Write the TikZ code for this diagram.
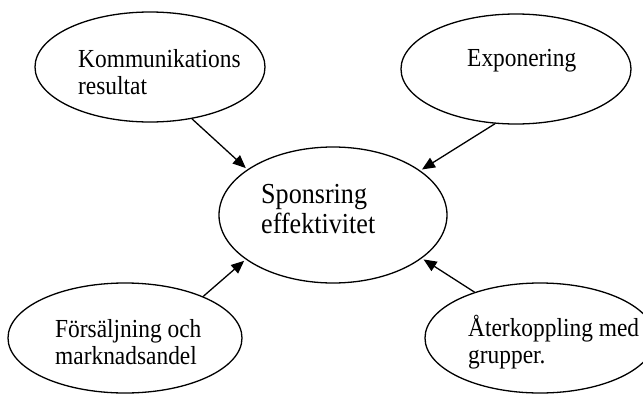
\documentclass[tikz,border=0pt]{standalone}
\usepackage{fontspec}
\newfontfamily\bubblefont{Liberation Serif}[FakeStretch=0.9]
\usetikzlibrary{shapes.geometric, arrows.meta, positioning}

\tikzset{
  bubble/.style={draw, ellipse, line width=1.3pt, minimum width=230pt, minimum height=110pt},
  bubbletxt/.style={anchor=base west, inner sep=0pt, align=left, font=\bubblefont\fontsize{26pt}{27pt}\selectfont},
  link/.style={line width=1.3pt, -{Triangle[length=13pt,width=11pt]}, shorten >=2pt}
}

\begin{document}
\begin{tikzpicture}[x=1pt, y=-1pt]
  \useasboundingbox (0,0) rectangle (643,394);

  % Ellipses
  \node[bubble] (komm) at (150,67) {};
  \node[bubble] (expo) at (516,69) {};
  \node[bubble, minimum width=228pt, minimum height=136pt] (spons) at (333,215) {};
  \node[bubble, minimum width=234pt] (fors) at (125,338) {};
  \node[bubble] (ater) at (540,338) {};

  % Texts (base = last line)
  \node[bubbletxt] (kommtxt) at (78,94) {Kommunikations\\resultat};
  \node[bubbletxt] (expotxt) at (467,66) {Exponering};
  \node[bubbletxt, font=\bubblefont\fontsize{29pt}{30pt}\selectfont] (sponstxt) at (261,233) {Sponsring\\effektivitet};
  \node[bubbletxt] (forstxt) at (55,364) {Försäljning och\\marknadsandel};
  \node[bubbletxt] (atertxt) at (468,363) {Återkoppling med\\grupper.};

  % Arrows
  \draw[link] (komm.-51) -- (spons.152);
  \draw[link] (expo.-111) -- (spons.27);
  \draw[link] (fors.28) -- (spons.207);
  \draw[link] (ater.145) -- (spons.-26);
\end{tikzpicture}
\end{document}
